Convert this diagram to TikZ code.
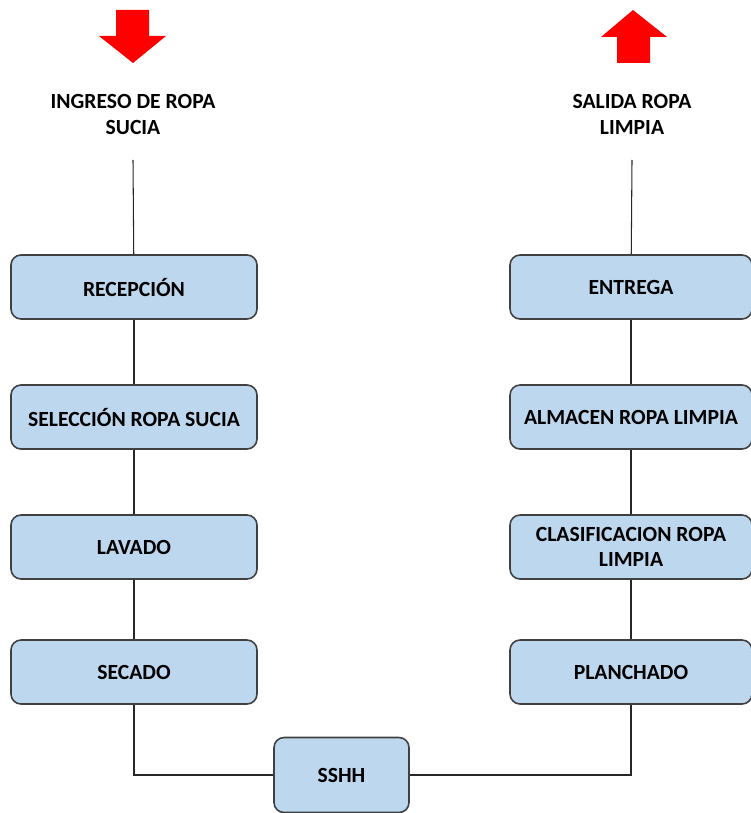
\documentclass[tikz,border=0pt]{standalone}
\usepackage{fontspec}
\setmainfont{Carlito}
\definecolor{boxblue}{RGB}{189,215,238}
\definecolor{boxline}{RGB}{64,64,64}

\tikzset{%
  % Specifications for style of nodes:
         base/.style = {rectangle, rounded corners=0.2cm, draw = boxline, line width=0.9pt, minimum width=4.92cm, minimum height=1.28cm, fill=boxblue, font=\bfseries\fontsize{12.3}{14.4}\selectfont, align=center},
         headtext/.style = {font=\bfseries\fontsize{12.3}{14.8}\selectfont, align=center},
         flow/.style = {red, draw=none},
}

\begin{document}
\begin{tikzpicture}[node distance=2.6cm]
    \useasboundingbox (0,0) rectangle (15,-16.26);

    % Draw nodes
    \node (ingreso)     [headtext] at (2.66,-2.28)    {INGRESO DE ROPA\\SUCIA};
    \node (salida)      [headtext] at (12.64,-2.28)   {SALIDA ROPA\\LIMPIA};
    \coordinate (ingresoend) at (2.66,-3.2);
    \coordinate (salidaend)  at (12.64,-3.2);

    \node (recep)       [base] at (2.68,-5.74)        {RECEPCIÓN};
    \node (selec)       [base, below of = recep]      {SELECCIÓN ROPA SUCIA};
    \node (lavado)      [base, below of = selec]      {LAVADO};
    \node (secado)      [base, below of = lavado, node distance=2.5cm] {SECADO};

    \node (entrega)     [base, minimum width=4.84cm] at (12.62,-5.74) {ENTREGA};
    \node (almacen)     [base, minimum width=4.84cm, below of = entrega]  {ALMACEN ROPA LIMPIA};
    \node (clasif)      [base, minimum width=4.84cm, below of = almacen]  {CLASIFICACION ROPA\\LIMPIA};
    \node (planch)      [base, minimum width=4.84cm, below of = clasif, node distance=2.5cm] {PLANCHADO};

    \node (sshh)        [base, minimum width=2.7cm, minimum height=1.5cm] at (6.83,-15.5) {SSHH};

    % Draw red flow arrows
    \fill[flow] (2.32,-0.2) -- (2.98,-0.2) -- (2.98,-0.72) -- (3.32,-0.72) -- (2.66,-1.26) -- (1.98,-0.72) -- (2.32,-0.72) -- cycle;
    \fill[flow] (12.66,-0.2) -- (13.34,-0.74) -- (13.0,-0.74) -- (13.0,-1.26) -- (12.34,-1.26) -- (12.34,-0.74) -- (12.02,-0.74) -- cycle;

    % Draw lines
    \draw[semithick, boxline!60!black]  (ingresoend) -- (recep);
    \draw[semithick, boxline!60!black]  (recep) -- (selec);
    \draw[semithick, boxline!60!black]  (selec) -- (lavado);
    \draw[semithick, boxline!60!black]  (lavado) -- (secado);
    \draw[semithick, boxline!60!black]  (secado) |- (sshh);

    \draw[semithick, boxline!60!black]  (sshh) -| (planch);
    \draw[semithick, boxline!60!black]  (planch) -- (clasif);
    \draw[semithick, boxline!60!black]  (clasif) -- (almacen);
    \draw[semithick, boxline!60!black]  (almacen) -- (entrega);
    \draw[semithick, boxline!60!black]  (entrega) -- (salidaend);

\end{tikzpicture}
\end{document}
